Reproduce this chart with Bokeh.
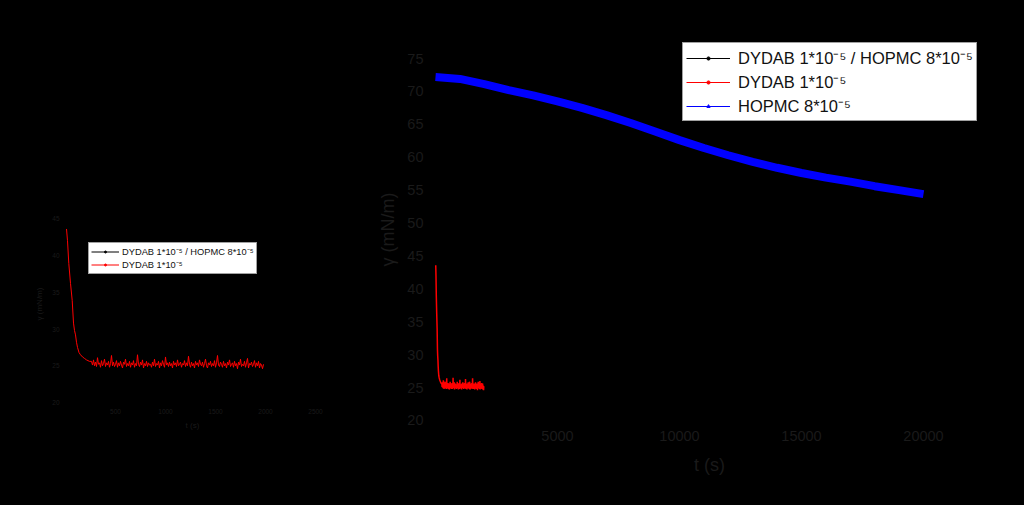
import numpy as np
from bokeh.plotting import figure
from bokeh.layouts import row
from bokeh.models import Legend, LegendItem, ColumnDataSource, Range1d, FixedTicker
from bokeh.embed import file_html
from bokeh.resources import INLINE

# ---------------- data ----------------
# DYDAB 1*10^-5 : initial decay (t in s, gamma in mN/m)
red_decay_t = [10, 20, 33, 50, 67, 80, 90, 100, 110, 120, 135, 150, 170, 190, 210, 240]
red_decay_y = [43.6, 42.0, 38.9, 36.2, 33.9, 30.8, 29.8, 29.2, 28.2, 27.5, 26.8, 26.5, 26.2, 26.0, 25.8, 25.6]
# plateau samples, every 10 s starting at 260 s
red_plateau_start = 260
red_plateau_step = 10
red_plateau_y = [
    25.6, 25.1, 25.8, 25.0, 25.5, 24.9, 26.1, 25.2, 25.4, 24.8, 25.7, 25.0, 25.3, 25.9, 24.9, 25.4, 25.1, 25.6, 24.8, 25.3,
    26.4, 25.0, 25.5, 24.9, 25.2, 25.7, 24.8, 25.4, 25.0, 25.6, 25.1, 24.7, 25.5, 25.2, 25.9, 24.9, 25.3, 25.0, 25.6, 24.8,
    25.4, 25.1, 25.7, 24.8, 25.3, 25.0, 26.5, 25.2, 24.9, 25.5, 25.1, 25.8, 24.7, 25.3, 25.0, 25.6, 24.9, 25.4, 25.1, 25.2,
    24.8, 25.5, 25.0, 25.9, 24.9, 25.3, 25.1, 25.6, 24.7, 25.4, 25.0, 25.7, 25.2, 24.8, 26.2, 25.1, 25.4, 24.9, 25.5, 25.0,
    25.3, 24.7, 25.6, 25.1, 25.4, 24.9, 25.8, 25.0, 25.2, 25.5, 24.8, 25.3, 25.1, 25.7, 24.9, 25.4, 25.0, 26.3, 25.2, 24.8,
    25.5, 25.0, 25.3, 24.7, 25.6, 25.1, 25.4, 24.9, 25.8, 25.2, 25.0, 25.5, 24.8, 25.3, 25.9, 25.0, 24.7, 25.4, 25.1, 25.6,
    24.9, 25.3, 25.0, 25.7, 24.8, 25.4, 26.4, 25.1, 24.9, 25.5, 25.2, 24.8, 25.6, 25.0, 25.3, 24.7, 25.5, 25.1, 25.8, 24.9,
    25.2, 25.4, 24.8, 25.6, 25.0, 25.3, 24.6, 25.5, 25.1, 25.9, 24.9, 25.2, 25.0, 25.6, 24.8, 25.4, 26.0, 24.7, 25.3, 25.1,
    25.5, 24.9, 25.2, 25.7, 24.8, 25.4, 25.0, 25.6, 24.7, 25.3, 25.1, 24.6, 25.2,
]
# HOPMC 8*10^-5
blue_t = [0, 1000, 2000, 3000, 4000, 5000, 6000, 7000, 8000, 9000, 10000,
          11000, 12000, 13000, 14000, 15000, 16000, 17000, 18000, 19000, 20000]
blue_y = [72.2, 71.9, 71.1, 70.2, 69.4, 68.5, 67.5, 66.4, 65.2, 63.9, 62.6,
          61.4, 60.3, 59.3, 58.4, 57.6, 56.9, 56.3, 55.6, 55.0, 54.4]

main_xticks = [5000, 10000, 15000, 20000]
main_yticks = [20, 25, 30, 35, 40, 45, 50, 55, 60, 65, 70, 75]
inset_xticks = [500, 1000, 1500, 2000, 2500]
inset_yticks = [20, 25, 30, 35, 40, 45]

label_mix = "DYDAB 1*10\u207b\u2075 / HOPMC 8*10\u207b\u2075"
label_dydab = "DYDAB 1*10\u207b\u2075"
label_hopmc = "HOPMC 8*10\u207b\u2075"
x_label = "t (s)"
y_label = "\u03b3 (mN/m)"

red_t = red_decay_t + [red_plateau_start + red_plateau_step * i for i in range(len(red_plateau_y))]
red_y = red_decay_y + red_plateau_y

TXT = "#1a1a1a"
FONT = "Liberation Sans"


def style(p, tick_size, label_size, tick_standoff, xlabel_standoff, ylabel_standoff):
    p.background_fill_color = "black"
    p.border_fill_color = "black"
    p.outline_line_color = None
    p.xgrid.visible = False
    p.ygrid.visible = False
    for ax, st in ((p.xaxis[0], xlabel_standoff), (p.yaxis[0], ylabel_standoff)):
        ax.axis_line_color = "black"
        ax.major_tick_line_color = None
        ax.minor_tick_line_color = None
        ax.major_tick_out = 0
        ax.major_tick_in = 0
        ax.major_label_text_color = TXT
        ax.major_label_text_font = FONT
        ax.major_label_text_font_size = tick_size
        ax.axis_label_text_color = TXT
        ax.axis_label_text_font = FONT
        ax.axis_label_text_font_size = label_size
        ax.axis_label_text_font_style = "normal"
        ax.major_label_standoff = tick_standoff
        ax.axis_label_standoff = st


# legend-only sources (series without visible samples)
legend_src = ColumnDataSource(dict(t=[float("nan")], y=[float("nan")]))

H = 497
# ---------------- inset (left) ----------------
W1 = 370
inset = figure(width=W1, height=H, output_backend="svg", toolbar_location=None,
               x_range=Range1d(-30, 2570), y_range=Range1d(19.6, 47.2),
               min_border_left=62, min_border_right=48, min_border_top=202, min_border_bottom=92)
inset.frame_align = False
style(inset, "6.5px", "8px", 3, 4, 5)
inset.xaxis.axis_label = x_label
inset.yaxis.axis_label = y_label
inset.xaxis.ticker = FixedTicker(ticks=inset_xticks)
inset.yaxis.ticker = FixedTicker(ticks=inset_yticks)

src_red = ColumnDataSource(dict(t=red_t, y=red_y))
inset.line("t", "y", source=src_red, color="#ff0000", line_width=1)

ib_l = inset.line("t", "y", source=legend_src, color="black", line_width=1)
ib_m = inset.scatter("t", "y", source=legend_src, color="black", size=2.5, marker="circle")
ir_l = inset.line("t", "y", source=legend_src, color="#ff0000", line_width=1)
ir_m = inset.scatter("t", "y", source=legend_src, color="#ff0000", size=2.5, marker="circle")
ileg = Legend(items=[LegendItem(label=label_mix, renderers=[ib_l, ib_m]),
                     LegendItem(label=label_dydab, renderers=[ir_l, ir_m])],
              location=(26, 131), margin=0, padding=2, spacing=0,
              label_height=12, glyph_height=5, glyph_width=28, label_standoff=3,
              label_text_font=FONT, label_text_font_size="9.3px", label_text_color="#111111",
              background_fill_color="white", background_fill_alpha=1,
              border_line_color="#444444", border_line_width=1)
inset.add_layout(ileg)

# ---------------- main (right) ----------------
W2 = 646
main = figure(width=W2, height=H, output_backend="svg", toolbar_location=None,
              x_range=Range1d(-287, 22746), y_range=Range1d(19.24, 78.8),
              min_border_left=58, min_border_right=26, min_border_top=33, min_border_bottom=72)
main.frame_align = False
style(main, "14.5px", "18px", 5, 11, 6)
main.xaxis.axis_label = x_label
main.yaxis.axis_label = y_label
main.xaxis.ticker = FixedTicker(ticks=main_xticks)
main.yaxis.ticker = FixedTicker(ticks=main_yticks)

src_blue = ColumnDataSource(dict(t=blue_t, y=blue_y))
main.line("t", "y", source=src_blue, color="#0000ff", line_width=8)
main.line("t", "y", source=src_red, color="#ff0000", line_width=1.5)

mb_l = main.line("t", "y", source=legend_src, color="black", line_width=1)
mb_m = main.scatter("t", "y", source=legend_src, color="black", size=4, marker="circle")
mr_l = main.line("t", "y", source=legend_src, color="#ff0000", line_width=1)
mr_m = main.scatter("t", "y", source=legend_src, color="#ff0000", size=4, marker="circle")
mh_l = main.line("t", "y", source=legend_src, color="#0000ff", line_width=1)
mh_m = main.scatter("t", "y", source=legend_src, color="#0000ff", size=6, marker="triangle")
mleg = Legend(items=[LegendItem(label=label_mix, renderers=[mb_l, mb_m]),
                     LegendItem(label=label_dydab, renderers=[mr_l, mr_m]),
                     LegendItem(label=label_hopmc, renderers=[mh_l, mh_m])],
              location=(254, 304), margin=0, padding=3, spacing=1,
              label_height=21, glyph_height=8, glyph_width=44, label_standoff=8,
              label_text_font=FONT, label_text_font_size="16.5px", label_text_color="#111111",
              background_fill_color="white", background_fill_alpha=1,
              border_line_color="#444444", border_line_width=1)
main.add_layout(mleg)

layout = row(inset, main, spacing=0)

html = file_html(layout, INLINE)
html = html.replace("</head>", "<style>html,body{background:#000;}</style></head>", 1)
open("out.html", "w").write(html)
